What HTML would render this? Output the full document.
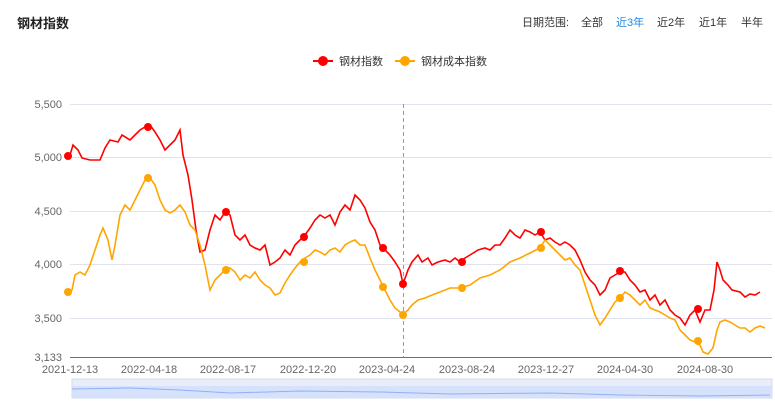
<!DOCTYPE html><html><head><meta charset="utf-8"><style>
body{margin:0;background:#fff;font-family:"Liberation Sans","Noto Sans CJK SC",sans-serif}
</style></head><body>
<svg width="775" height="411" xmlns="http://www.w3.org/2000/svg" font-family="Liberation Sans, Noto Sans CJK SC, sans-serif">
<text x="17" y="28" font-size="13" font-weight="bold" fill="#222">钢材指数</text>
<g font-size="11" fill="#333"><text x="522" y="26">日期范围:</text><text x="581" y="26">全部</text><text x="616" y="26" fill="#1e88e5">近3年</text><text x="657" y="26">近2年</text><text x="699" y="26">近1年</text><text x="741" y="26">半年</text></g>
<line x1="313" y1="61" x2="333" y2="61" stroke="#f00" stroke-width="2"/><circle cx="323" cy="61" r="5" fill="#f00"/>
<text x="339" y="65" font-size="11" fill="#333">钢材指数</text>
<line x1="395" y1="61" x2="415" y2="61" stroke="#ffa500" stroke-width="2"/><circle cx="405" cy="61" r="5" fill="#ffa500"/>
<text x="421" y="65" font-size="11" fill="#333">钢材成本指数</text>
<g stroke="#e0e3ee" stroke-width="1"><line x1="70" y1="104.5" x2="772" y2="104.5"/><line x1="70" y1="157.5" x2="772" y2="157.5"/><line x1="70" y1="211.5" x2="772" y2="211.5"/><line x1="70" y1="264.5" x2="772" y2="264.5"/><line x1="70" y1="318.5" x2="772" y2="318.5"/></g>
<line x1="70" y1="357.5" x2="772" y2="357.5" stroke="#6e7079"/>
<g font-size="11" fill="#666" text-anchor="end"><text x="62" y="108">5,500</text><text x="62" y="161">5,000</text><text x="62" y="215">4,500</text><text x="62" y="268">4,000</text><text x="62" y="322">3,500</text><text x="62" y="361">3,133</text></g>
<g font-size="11" fill="#666" text-anchor="middle"><text x="70" y="373">2021-12-13</text><text x="149" y="373">2022-04-18</text><text x="228" y="373">2022-08-17</text><text x="308" y="373">2022-12-20</text><text x="387" y="373">2023-04-24</text><text x="467" y="373">2023-08-24</text><text x="546" y="373">2023-12-27</text><text x="625" y="373">2024-04-30</text><text x="705" y="373">2024-08-30</text></g>
<line x1="403.5" y1="104" x2="403.5" y2="357" stroke="#999" stroke-dasharray="4,3"/>
<polyline fill="none" stroke="#f00" stroke-width="1.6" points="70,155 73,145 78,150 82,158 90,160 100,160 105,148 110,140 118,142 122,135 130,140 135,135 140,130 145,127 150,125 155,132 160,140 165,150 170,145 175,140 180,130 183,155 188,175 192,200 196,230 200,252 205,250 210,230 215,215 220,220 225,212 230,215 235,235 240,240 245,235 250,245 255,248 260,250 265,245 270,265 275,262 280,258 285,250 290,255 295,245 300,240 305,235 310,228 315,220 320,215 325,218 330,215 335,225 340,212 345,205 350,210 355,195 360,200 365,208 370,222 375,230 380,245 385,250 390,255 395,262 400,270 403,284 408,270 412,262 418,255 422,262 428,258 432,265 438,262 445,260 450,262 455,258 460,262 465,258 470,255 478,250 485,248 490,250 495,245 500,245 505,238 510,230 515,235 520,238 525,230 530,232 535,235 540,232 545,240 550,238 555,242 560,245 565,242 570,245 575,250 580,260 585,272 590,280 595,285 600,295 605,290 610,278 615,275 620,272 625,272 630,280 635,285 640,292 645,290 650,300 655,295 660,305 665,300 670,310 675,315 680,318 685,325 690,315 695,310 700,322 705,310 710,310 714,290 717,262 720,270 723,280 728,285 732,290 740,292 745,297 750,294 755,295 760,292"/>
<polyline fill="none" stroke="#ffa500" stroke-width="1.6" points="68,292 72,290 75,275 80,272 85,275 90,265 95,250 100,235 103,228 108,240 112,260 115,245 120,215 125,205 130,210 135,200 140,190 145,180 150,178 155,185 160,200 165,210 170,213 175,210 180,205 185,212 190,225 195,230 200,245 205,265 210,290 215,280 220,275 225,270 230,268 235,272 240,280 245,275 250,278 255,272 260,280 265,285 270,288 275,295 280,293 285,283 290,275 295,268 300,262 305,258 310,255 315,250 320,252 325,255 330,250 335,248 340,252 345,245 350,242 355,240 360,245 365,245 370,258 375,270 380,280 385,290 390,300 395,308 400,312 403,314 408,310 412,305 418,300 425,298 432,295 440,292 450,288 460,288 470,285 480,278 490,275 500,270 510,262 520,258 530,253 540,248 545,240 550,245 555,250 560,255 565,260 570,258 575,265 580,270 585,285 590,300 595,315 600,325 605,318 610,310 615,302 620,298 625,292 630,295 635,300 640,305 645,300 650,308 655,310 660,312 665,315 670,318 675,320 680,330 685,335 690,340 695,342 700,345 703,352 708,354 713,348 717,330 720,322 725,320 730,322 735,325 740,328 745,328 750,332 755,328 760,326 765,328"/>
<g fill="#f00"><circle cx="68" cy="156" r="4"/><circle cx="148" cy="127" r="4"/><circle cx="226" cy="212" r="4"/><circle cx="304" cy="237" r="4"/><circle cx="383" cy="248" r="4"/><circle cx="403" cy="284" r="4"/><circle cx="462" cy="262" r="4"/><circle cx="541" cy="232" r="4"/><circle cx="620" cy="271" r="4"/><circle cx="698" cy="309" r="4"/></g>
<g fill="#ffa500"><circle cx="68" cy="292" r="4"/><circle cx="148" cy="178" r="4"/><circle cx="226" cy="270" r="4"/><circle cx="304" cy="262" r="4"/><circle cx="383" cy="287" r="4"/><circle cx="403" cy="315" r="4"/><circle cx="462" cy="288" r="4"/><circle cx="541" cy="248" r="4"/><circle cx="620" cy="298" r="4"/><circle cx="698" cy="341" r="4"/></g>
<rect x="72" y="379" width="700" height="19" fill="#e8eef9" stroke="#d2dbee"/>
<rect x="72" y="386" width="700" height="12" fill="#d6e2fb"/>
<polyline fill="none" stroke="#8fb0f7" points="72,389 130,388 180,390 230,393 300,391 380,392 450,394 550,393 620,395 700,396 770,395"/>
</svg>
</body></html>
